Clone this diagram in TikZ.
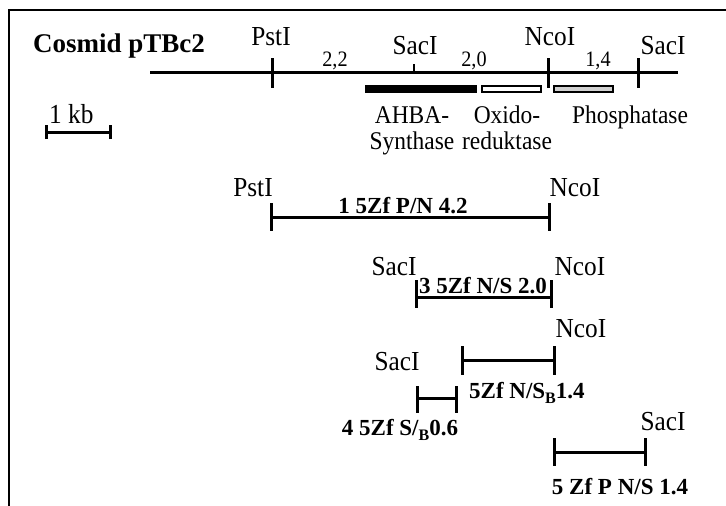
\documentclass[tikz,border=0pt]{standalone}
\usepackage{fontspec}
\setmainfont{Liberation Serif}
\newfontfamily\tallfont{Liberation Serif}[FakeStretch=0.92]
\newcommand{\lowsubB}{\raisebox{-5pt}{\fontsize{16}{16}\selectfont B}}
\begin{document}
\begin{tikzpicture}[x=1pt,y=-1pt,
  frame/.style={line width=1.5pt},
  mapline/.style={line width=3pt},
  tickline/.style={line width=3pt},
  lbl/.style={inner sep=0pt,font=\tallfont\fontsize{27.5}{29}\selectfont},
  num/.style={inner sep=0pt,font=\tallfont\fontsize{22}{24}\selectfont},
  gene/.style={inner sep=0pt,font=\tallfont\fontsize{25.5}{26}\selectfont,align=center,anchor=north},
  frag/.style={inner sep=0pt,font=\bfseries\fontsize{23}{25}\selectfont}]
\useasboundingbox (0,0) rectangle (726,506);
% frame
\coordinate (fA) at (9,506);
\coordinate (fB) at (9,10);
\coordinate (fC) at (726,10);
\draw[frame] (fA) -- (fB) -- (fC);
% title
\node[inner sep=0pt,anchor=west,font=\bfseries\fontsize{27}{28}\selectfont] (title) at (33,46) {Cosmid pTBc2};
% main map
\coordinate (mL) at (150,72);
\coordinate (mR) at (678,72);
\draw[mapline] (mL) -- (mR);
\coordinate (p1) at (272,58); \coordinate (p2) at (272,88);
\coordinate (n1) at (548,58); \coordinate (n2) at (548,88);
\coordinate (s1) at (638,58); \coordinate (s2) at (638,88);
\coordinate (sm1) at (414,64); \coordinate (sm2) at (414,72);
\draw[tickline] (p1) -- (p2);
\draw[tickline] (n1) -- (n2);
\draw[tickline] (s1) -- (s2);
\draw[line width=1.2pt] (sm1) -- (sm2);
\node[lbl] (lPst) at (271,37) {PstI};
\node[lbl] (lSac) at (415,46) {SacI};
\node[lbl] (lNco) at (550,37) {NcoI};
\node[lbl] (lSac2) at (663,46) {SacI};
\node[num] (d22) at (335,61) {2,2};
\node[num] (d20) at (474,61) {2,0};
\node[num] (d14) at (598,61) {1,4};
% genes
\node[draw=black,fill=black,line width=0.8pt,minimum width=111pt,minimum height=7pt,inner sep=0pt] (gA) at (421,89) {};
\node[draw=black,fill=white,line width=1.2pt,minimum width=59pt,minimum height=6pt,inner sep=0pt] (gO) at (511.5,89) {};
\node[draw=black,fill=black!18,line width=1.2pt,minimum width=59pt,minimum height=6pt,inner sep=0pt] (gP) at (583.5,89) {};
\node[gene] (tA) at (412,106) {AHBA-\\Synthase};
\node[gene] (tO) at (507,106) {Oxido-\\reduktase};
\node[gene] (tP) at (630,106) {Phosphatase};
% scale bar
\node[lbl,anchor=west] (kb) at (49,114) {1 kb};
\coordinate (kL) at (46,132); \coordinate (kR) at (110,132);
\draw[line width=3pt] (kL) -- (kR);
\draw[line width=3pt] ([yshift=-7pt]kL) -- ([yshift=7pt]kL);
\draw[line width=3pt] ([yshift=-7pt]kR) -- ([yshift=7pt]kR);
% fragment 1
\coordinate (f1L) at (271,217); \coordinate (f1R) at (549,217);
\draw[mapline] (f1L) -- (f1R);
\draw[tickline] (271,203) -- (271,231);
\draw[tickline] (549,203) -- (549,231);
\node[lbl] (f1a) at (253,188) {PstI};
\node[lbl] (f1b) at (575,188) {NcoI};
\node[frag] (f1t) at (403,206) {1 5Zf P/N 4.2};
% fragment 2
\coordinate (f2L) at (416,297); \coordinate (f2R) at (551,297);
\draw[mapline] (f2L) -- (f2R);
\draw[tickline] (416,280) -- (416,308);
\draw[tickline] (551,280) -- (551,308);
\node[lbl] (f2a) at (394,267) {SacI};
\node[lbl] (f2b) at (580,267) {NcoI};
\node[frag] (f2t) at (483,286) {3 5Zf N/S 2.0};
% fragment 3
\coordinate (f3L) at (462,360); \coordinate (f3R) at (554,360);
\draw[mapline] (f3L) -- (f3R);
\draw[tickline] (462,346) -- (462,375);
\draw[tickline] (554,346) -- (554,375);
\node[lbl] (f3b) at (581,329) {NcoI};
\node[frag,anchor=base west] (f3t) at (469,398) {5Zf N/S\lowsubB1.4};
% fragment 4
\coordinate (f4L) at (417,398); \coordinate (f4R) at (456,398);
\draw[mapline] (f4L) -- (f4R);
\draw[tickline] (417,386) -- (417,413);
\draw[tickline] (456,386) -- (456,413);
\node[lbl] (f4a) at (397,362) {SacI};
\node[frag,anchor=base] (f4t) at (400,435) {4 5Zf S/\lowsubB0.6};
% fragment 5
\coordinate (f5L) at (554,452); \coordinate (f5R) at (645,452);
\draw[mapline] (f5L) -- (f5R);
\draw[tickline] (554,438) -- (554,466);
\draw[tickline] (645,438) -- (645,466);
\node[lbl] (f5a) at (663,422) {SacI};
\node[frag] (f5t) at (620,487) {5 Zf P N/S 1.4};
\end{tikzpicture}
\end{document}
